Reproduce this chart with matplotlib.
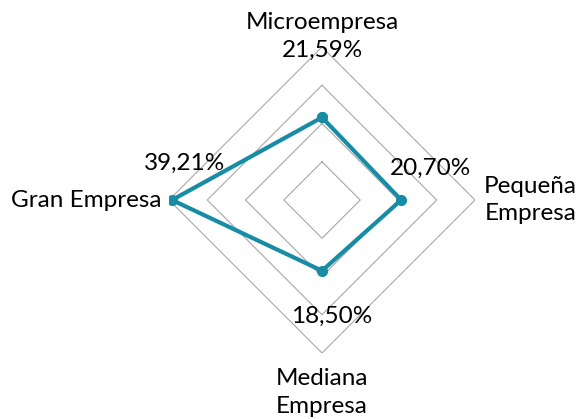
import matplotlib.pyplot as plt
import numpy as np

categories = ["Microempresa", "Pequeña\nEmpresa", "Mediana\nEmpresa", "Gran Empresa"]
values = [21.59, 20.70, 18.50, 39.21]
value_labels = ["21,59%", "20,70%", "18,50%", "39,21%"]
rings = [10, 20, 30, 40]

plt.rcParams['font.family'] = ['Lato', 'DejaVu Sans']

fig = plt.figure(figsize=(5.79, 4.19), dpi=100)
ax = fig.add_axes([0.2919, 0.1575, 0.5285, 0.7303], projection='polar')
ax.set_theta_offset(np.pi / 2)
ax.set_theta_direction(-1)

angles = np.linspace(0, 2 * np.pi, len(categories), endpoint=False)
closed = np.append(angles, angles[0])

# diamond gridlines
for r in rings:
    ax.plot(closed, [r] * len(closed), color="#A6A6A6", lw=0.8, zorder=1)

vals = values + values[:1]
ax.plot(closed, vals, color="#178CA4", lw=3, marker="o", markersize=7, zorder=3)

ax.set_ylim(0, 40)
ax.grid(False)
ax.spines['polar'].set_visible(False)
ax.set_xticks([])
ax.set_yticks([])
ax.patch.set_visible(False)

fs = 17.5
# category labels
ax.text(angles[0], 46.3, categories[0], ha="center", va="center", fontsize=fs)
ax.text(angles[1], 54.5, categories[1], ha="center", va="center", fontsize=fs, linespacing=1.4)
ax.text(angles[2], 50.3, categories[2], ha="center", va="center", fontsize=fs, linespacing=1.4)
ax.text(angles[3], 42, categories[3], ha="right", va="center", fontsize=fs)

# data labels
offsets = [(0, 67), (29, 32), (10, -46), (13, 37)]
for a, v, lab, off in zip(angles, values, value_labels, offsets):
    ax.annotate(lab, xy=(a, v), xytext=off, textcoords="offset pixels",
                ha="center", va="center", fontsize=fs, zorder=4)

fig.savefig("out.png", dpi=100)
